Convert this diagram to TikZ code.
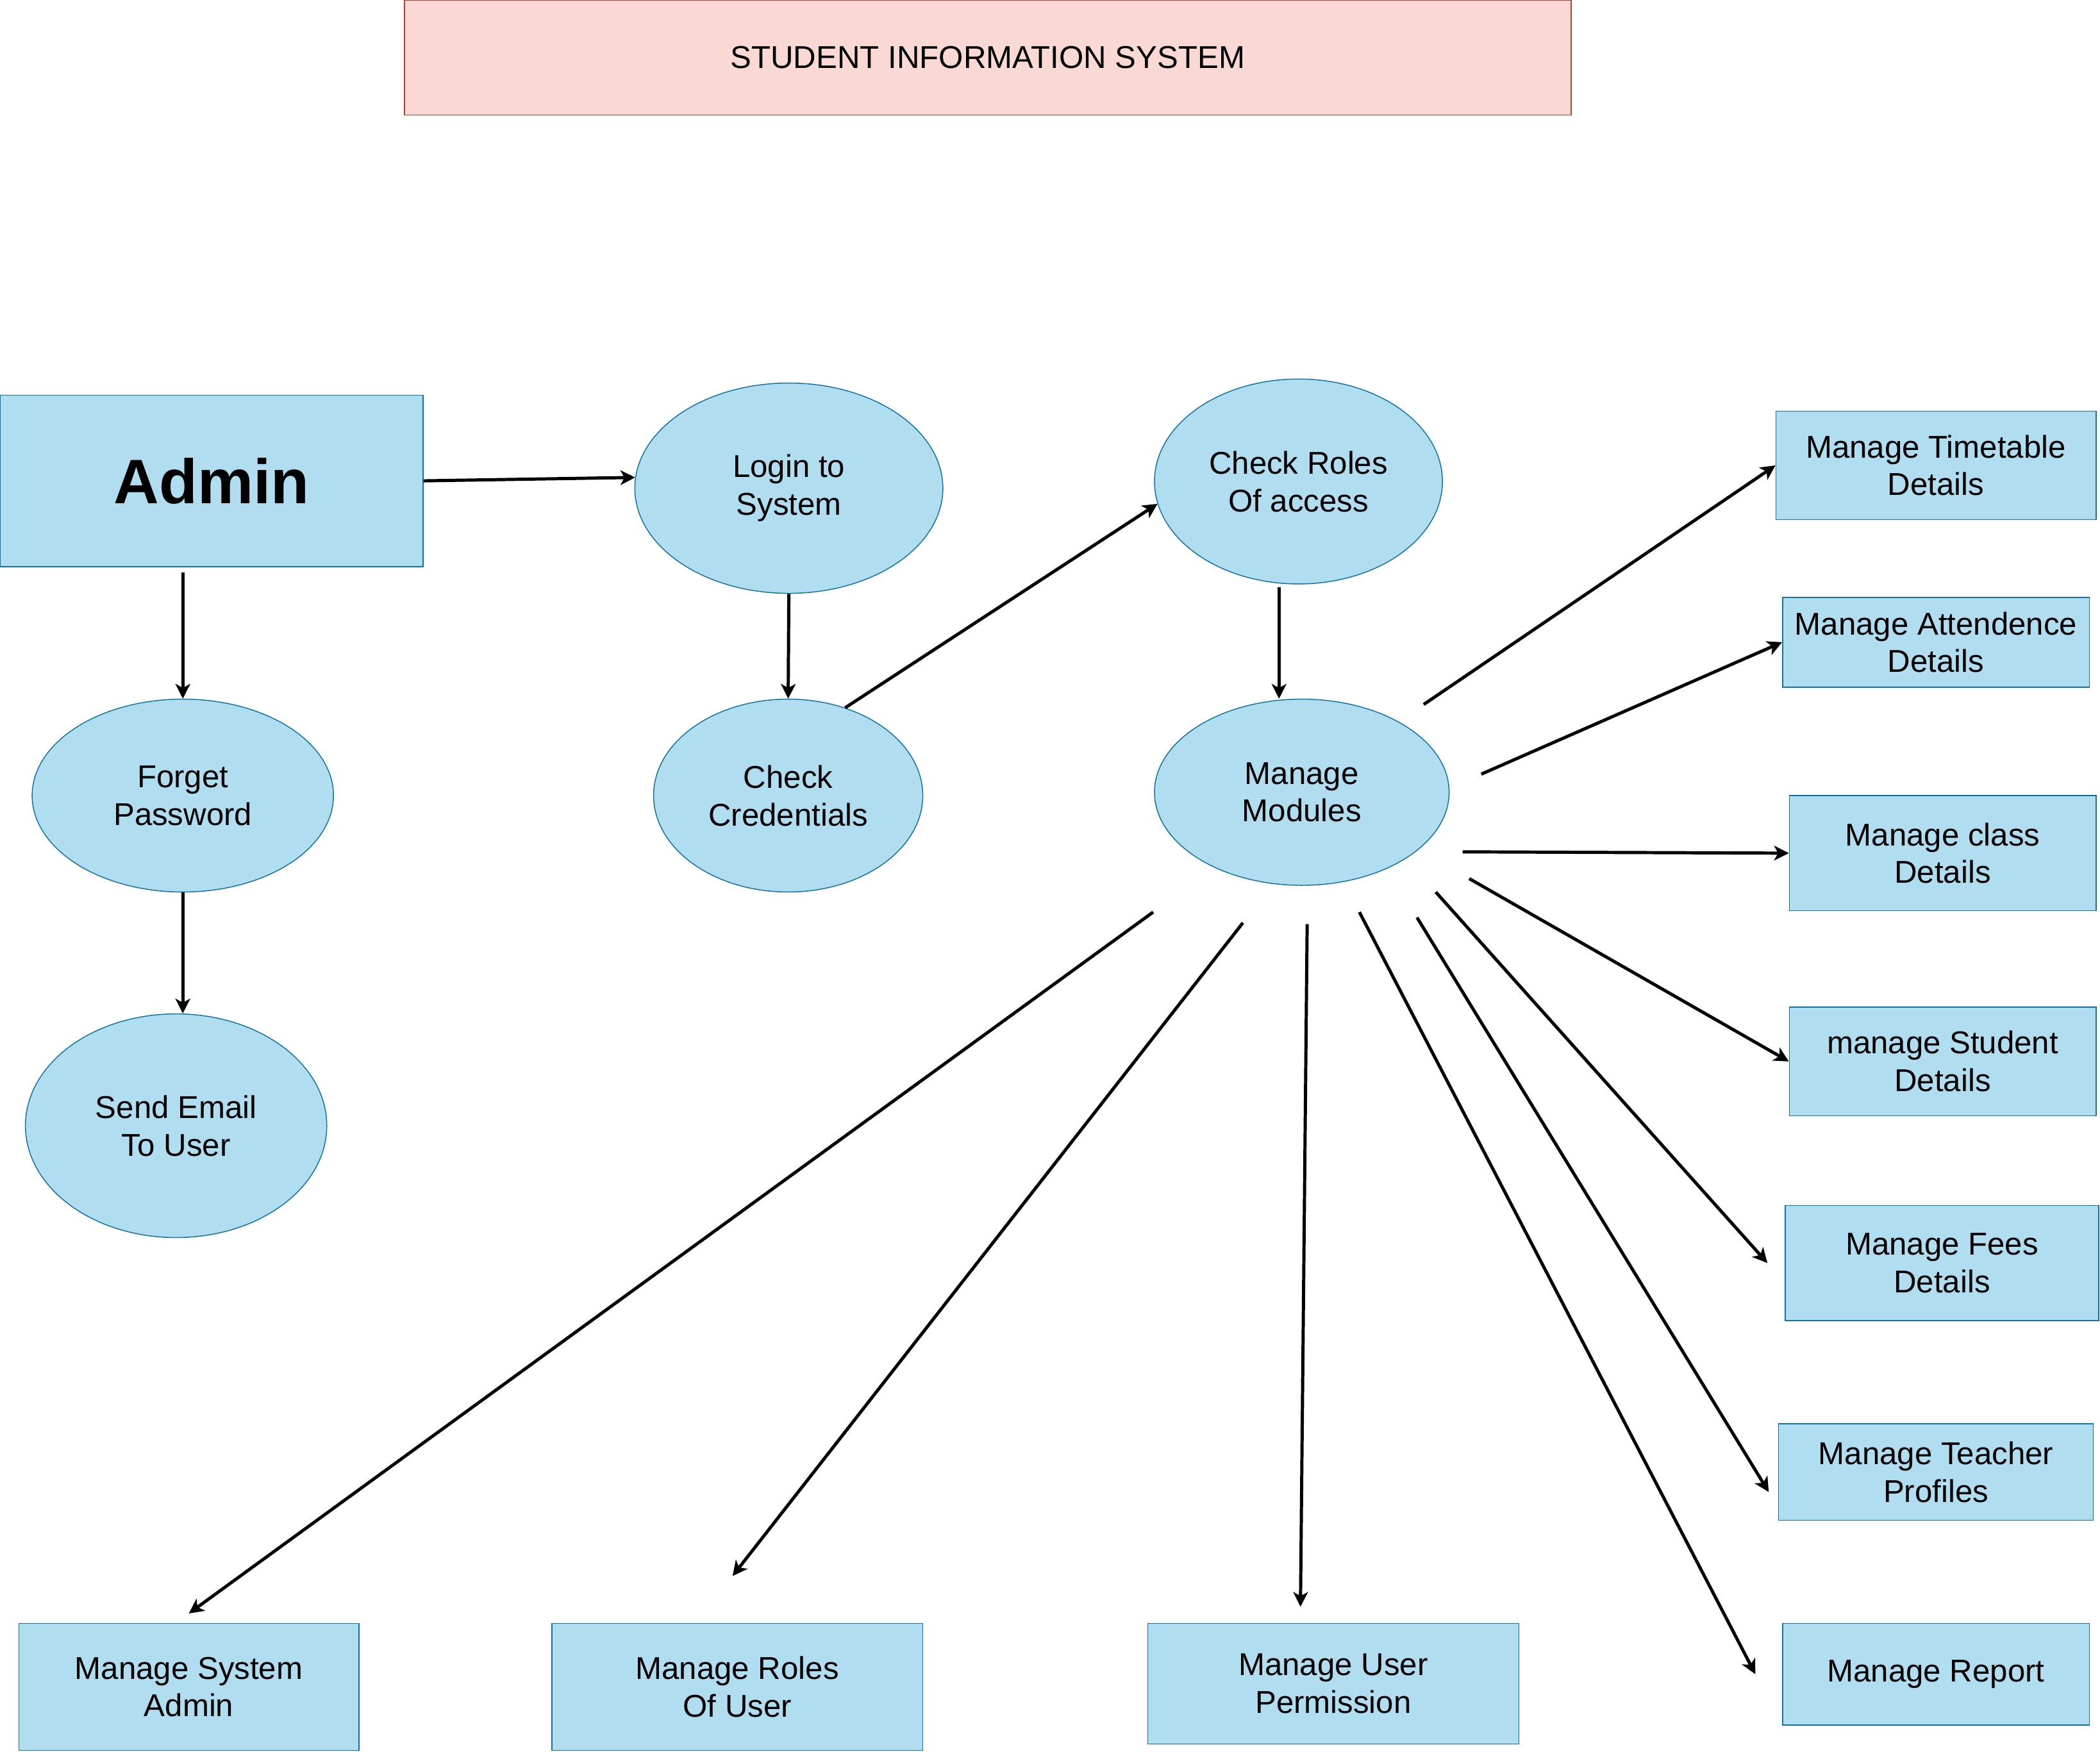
\documentclass[tikz,border=0pt]{standalone}
\usepackage{fontspec}
\setmainfont{Liberation Sans}
\usepackage{xcolor}
\definecolor{CaseBlue}{HTML}{B1DDF0}
\definecolor{CaseLine}{HTML}{10739E}
\definecolor{TitlePink}{HTML}{FAD9D5}
\definecolor{TitleRed}{HTML}{AE4132}
\usepackage{tikz}
\usetikzlibrary{shapes, arrows.meta, positioning, calc}

\begin{document}
\begin{tikzpicture}[
        box/.style={rectangle, draw=CaseLine, line width=0.4pt, fill=CaseBlue, align=center, inner sep=2pt, font=\fontsize{13.4}{16}\selectfont},
        usecase/.style={ellipse, draw=CaseLine, line width=0.4pt, fill=CaseBlue, align=center, inner sep=1pt, font=\fontsize{13.4}{16}\selectfont},
        arrow/.style={-{Stealth[length=0.22cm, width=0.22cm, inset=0.06cm]}, line width=1.35pt}
    ]
        \useasboundingbox (0,0) rectangle (31.36,-26.16);

        % Title
        \node[box, fill=TitlePink, draw=TitleRed, minimum width=17.42cm, minimum height=1.72cm] (title) at (14.75,-0.86) {STUDENT INFORMATION SYSTEM};

        % Nodes
        \node[box, minimum width=6.32cm, minimum height=2.56cm, font=\fontsize{26.7}{32}\selectfont\bfseries] (admin) at (3.16,-7.18) {Admin};
        \node[usecase, minimum width=4.60cm, minimum height=3.14cm] (login) at (11.78,-7.29) {Login to\\System};
        \node[usecase, minimum width=4.30cm, minimum height=3.06cm] (roles) at (19.39,-7.19) {Check Roles\\Of access};
        \node[usecase, minimum width=4.50cm, minimum height=2.88cm] (forget) at (2.73,-11.88) {Forget\\Password};
        \node[usecase, minimum width=4.02cm, minimum height=2.88cm] (cred) at (11.77,-11.88) {Check\\Credentials};
        \node[usecase, minimum width=4.40cm, minimum height=2.78cm] (mm) at (19.44,-11.83) {Manage\\Modules};
        \node[usecase, minimum width=4.50cm, minimum height=3.34cm] (email) at (2.63,-16.81) {Send Email\\To User};

        % Modules
        \node[box, minimum width=4.78cm, minimum height=1.62cm] (tt) at (28.91,-6.95) {Manage Timetable\\Details};
        \node[box, minimum width=4.58cm, minimum height=1.34cm] (att) at (28.91,-9.59) {Manage Attendence\\Details};
        \node[box, minimum width=4.58cm, minimum height=1.72cm] (cls) at (29.01,-12.74) {Manage class\\Details};
        \node[box, minimum width=4.58cm, minimum height=1.62cm] (stu) at (29.01,-15.85) {manage Student\\Details};
        \node[box, minimum width=4.68cm, minimum height=1.72cm] (fees) at (29.00,-18.86) {Manage Fees\\Details};
        \node[box, minimum width=4.70cm, minimum height=1.44cm] (tch) at (28.91,-21.98) {Manage Teacher\\Profiles};
        \node[box, minimum width=4.58cm, minimum height=1.52cm] (rep) at (28.91,-25.00) {Manage Report};
        \node[box, minimum width=5.08cm, minimum height=1.90cm] (sadm) at (2.82,-25.19) {Manage System\\Admin};
        \node[box, minimum width=5.54cm, minimum height=1.90cm] (rusr) at (11.01,-25.19) {Manage Roles\\Of User};
        \node[box, minimum width=5.54cm, minimum height=1.80cm] (perm) at (19.91,-25.14) {Manage User\\Permission};

        % Arrows
        \draw[arrow] (admin.east) -- (login.176);
        \draw[arrow, shorten <=0.08cm] (forget.north |- admin.south) -- (forget.north);
        \draw[arrow] (forget.south) -- (forget.south |- email.north);
        \draw[arrow] (login.south) -- (cred.north);
        \draw[arrow] (cred.57) -- (roles.189);
        \draw[arrow, shorten <=0.04cm] ([xshift=-0.29cm]roles.south) -- ([xshift=-0.34cm]mm.north);

        % Module arrows
        \coordinate (mm-tt) at ([shift={(1.82,1.31)}]mm.center);
        \coordinate (mm-att) at ([shift={(2.68,0.27)}]mm.center);
        \coordinate (mm-cls) at ([shift={(2.40,-0.89)}]mm.center);
        \coordinate (mm-stu) at ([shift={(2.50,-1.29)}]mm.center);
        \coordinate (mm-fees) at ([shift={(2.00,-1.49)}]mm.center);
        \coordinate (mm-tch) at ([shift={(1.72,-1.87)}]mm.center);
        \coordinate (mm-rep) at ([shift={(0.86,-1.79)}]mm.center);
        \coordinate (mm-perm) at ([shift={(0.08,-1.97)}]mm.center);
        \coordinate (mm-rusr) at ([shift={(-0.88,-1.95)}]mm.center);
        \coordinate (mm-sadm) at ([shift={(-2.22,-1.79)}]mm.center);

        \draw[arrow] (mm-tt) -- (tt.west);
        \draw[arrow] (mm-att) -- (att.west);
        \draw[arrow] (mm-cls) -- (cls.west);
        \draw[arrow] (mm-stu) -- (stu.west);
        \draw[arrow] (mm-fees) -- ([xshift=-0.26cm]fees.west);
        \draw[arrow] (mm-tch) -- ([shift={(-0.14,-0.30)}]tch.west);
        \draw[arrow] (mm-rep) -- ([xshift=-0.40cm]rep.west);
        \draw[arrow] (mm-perm) -- ([shift={(-0.49,0.24)}]perm.north);
        \draw[arrow] (mm-rusr) -- ([shift={(-0.07,0.70)}]rusr.north);
        \draw[arrow] (mm-sadm) -- ([shift={(0,0.14)}]sadm.north);
    \end{tikzpicture}
\end{document}
